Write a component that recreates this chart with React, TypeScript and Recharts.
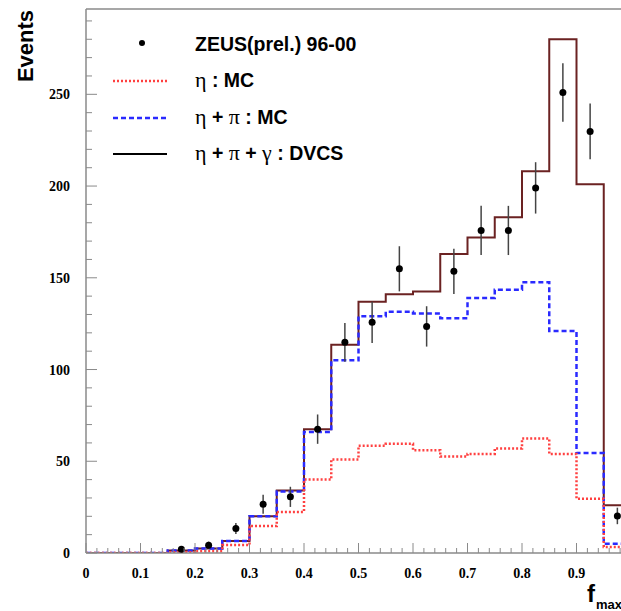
import { ComposedChart, Line, Scatter, ErrorBar, XAxis, YAxis, ReferenceLine } from "recharts"

// histogram bin edges (width 0.05), last edge closes the last bin
const binEdges = [0, 0.05, 0.1, 0.15, 0.2, 0.25, 0.3, 0.35, 0.4, 0.45, 0.5, 0.55, 0.6, 0.65, 0.7, 0.75, 0.8, 0.85, 0.9, 0.95, 1.0]

// bin contents, one value per bin
const etaMC = [0, 0, 0, 0.4, 1, 4.3, 14.7, 22.4, 40, 51, 58.5, 59.5, 56, 52.6, 54, 57, 62.4, 54, 29.6, 3.3]
const etaPiMC = [0, 0, 0, 1.3, 2.5, 6.5, 20, 33.5, 66, 105, 129, 131.5, 130.5, 128, 139, 143.5, 147.6, 121, 54.5, 5]
const dvcsTotal = [0, 0, 0, 1.3, 2.5, 6.5, 20, 34, 67.5, 113.5, 137, 141, 142.5, 163, 172, 183, 208, 280, 201, 26]

// ZEUS (prel.) 96-00 data points
const zeusX = [0.175, 0.225, 0.275, 0.325, 0.375, 0.425, 0.475, 0.525, 0.575, 0.625, 0.675, 0.725, 0.775, 0.825, 0.875, 0.925, 0.975]
const zeusY = [2, 4.2, 13.3, 26.6, 30.6, 67.5, 114.8, 125.7, 154.9, 123.5, 153.5, 175.8, 175.8, 199, 251, 229.8, 20.2]
const zeusErr = [1.4, 2, 3, 5.2, 5.5, 8, 10.6, 11.2, 12.3, 11, 12.3, 13.4, 13.4, 14, 15.9, 15.2, 4.5]

const xTickLabels = ["0", "0.1", "0.2", "0.3", "0.4", "0.5", "0.6", "0.7", "0.8", "0.9"]
const yTickLabels = [0, 50, 100, 150, 200, 250]

const Y_MAX = 296.5
const AXIS_GREY = "#8a8a8a"
const TICK_MARGIN = 16

const histRows = binEdges.map((edge, i) => {
  const j = Math.min(i, dvcsTotal.length - 1)
  return { x: edge, eta: etaMC[j], etaPi: etaPiMC[j], dvcs: dvcsTotal[j] }
})

const zeusRows = zeusX.map((x, i) => ({ x, y: zeusY[i], err: zeusErr[i] }))

// minor ticks every 0.02 in x and every 10 in y
const xTicks = Array.from({ length: 51 }, (_, i) => Math.round(i * 2) / 100)
const yTicks = Array.from({ length: 30 }, (_, i) => i * 10)

function XTick(props: any) {
  const { x, y, payload } = props
  const v = payload.value
  const ay = y - TICK_MARGIN
  const r = Math.round(v * 10)
  const major = Math.abs(v * 10 - r) < 1e-6
  const label = major ? xTickLabels[r] : undefined
  return (
    <g>
      <line x1={x} x2={x} y1={ay} y2={ay - (major ? 10 : 5)} stroke={AXIS_GREY} strokeWidth={1} />
      {label && (
        <text x={x} y={ay + 25} textAnchor="middle" fontFamily="Liberation Serif" fontWeight="bold" fontSize={14} fill="#000">
          {label}
        </text>
      )}
    </g>
  )
}

function YTick(props: any) {
  const { x, y, payload } = props
  const v = payload.value
  const ax = x + TICK_MARGIN
  const major = yTickLabels.includes(v)
  return (
    <g>
      <line x1={ax} x2={ax + (major ? 11 : 6)} y1={y} y2={y} stroke={AXIS_GREY} strokeWidth={1} />
      {major && (
        <text x={x} y={y + 5} textAnchor="end" fontFamily="Liberation Serif" fontWeight="bold" fontSize={14} fill="#000">
          {v}
        </text>
      )}
    </g>
  )
}

const greek = { fontFamily: "Liberation Serif", fontWeight: "normal" as const, fontSize: 22 }

function Overlay() {
  return (
    <svg width={621} height={611} style={{ position: "absolute", left: 0, top: 0, pointerEvents: "none" }}>
      <text
        transform="translate(33,46) rotate(-90)"
        textAnchor="middle"
        fontFamily="Liberation Sans"
        fontWeight="bold"
        fontSize={22}
        fill="#000"
      >
        Events
      </text>

      <g fontFamily="Liberation Sans" fontWeight="bold" fontSize={19.5} fill="#000">
        <circle cx={142} cy={43} r={3} fill="#000" />
        <text x={195} y={51}>ZEUS(prel.) 96-00</text>

        <line x1={113} x2={167} y1={81} y2={81} stroke="#ff4040" strokeWidth={2.5} strokeDasharray="2 2" />
        <text x={195} y={87}>
          <tspan {...greek}>η</tspan> : MC
        </text>

        <line x1={113} x2={167} y1={118} y2={118} stroke="#2a2aff" strokeWidth={2.5} strokeDasharray="5 3" />
        <text x={195} y={123.5}>
          <tspan {...greek}>η</tspan> + <tspan {...greek}>π</tspan> : MC
        </text>

        <line x1={113} x2={167} y1={154} y2={154} stroke="#000" strokeWidth={2} />
        <text x={195} y={160}>
          <tspan {...greek}>η</tspan> + <tspan {...greek}>π</tspan> + <tspan {...greek}>γ</tspan> : DVCS
        </text>
      </g>

      <text x={587} y={602} fontFamily="Liberation Sans" fontWeight="bold" fontSize={24} fill="#000">
        f
        <tspan fontSize={13} dx={1} dy={7}>max</tspan>
      </text>
    </svg>
  )
}

export default function App() {
  return (
    <div style={{ position: "absolute", left: 0, top: 0, width: 621, height: 611, overflow: "hidden", background: "#fff" }}>
      <ComposedChart width={640} height={611} data={histRows} margin={{ top: 9, right: 9, left: 26, bottom: 18 }}>
        <XAxis
          type="number"
          dataKey="x"
          domain={[0, 1]}
          ticks={xTicks}
          interval={0}
          height={40}
          tickSize={0}
          tickMargin={TICK_MARGIN}
          tickLine={false}
          axisLine={{ stroke: AXIS_GREY, strokeWidth: 1.5 }}
          tick={<XTick />}
          allowDataOverflow
        />
        <YAxis
          type="number"
          domain={[0, Y_MAX]}
          ticks={yTicks}
          interval={0}
          width={60}
          tickSize={0}
          tickMargin={TICK_MARGIN}
          tickLine={false}
          axisLine={{ stroke: AXIS_GREY, strokeWidth: 1.5 }}
          tick={<YTick />}
          allowDataOverflow
        />
        <ReferenceLine y={Y_MAX} stroke={AXIS_GREY} strokeWidth={1.5} />
        <Line type="stepAfter" dataKey="dvcs" stroke="#6b2222" strokeWidth={2} dot={false} isAnimationActive={false} />
        <Line type="stepAfter" dataKey="etaPi" stroke="#2a2aff" strokeWidth={2.5} strokeDasharray="5 3" dot={false} isAnimationActive={false} />
        <Line type="stepAfter" dataKey="eta" stroke="#ff4040" strokeWidth={2.5} strokeDasharray="2 2" dot={false} isAnimationActive={false} />
        <Scatter
          data={zeusRows}
          dataKey="y"
          isAnimationActive={false}
          shape={(p: any) => <circle cx={p.cx} cy={p.cy} r={3.5} fill="#000" />}
        >
          <ErrorBar dataKey="err" direction="y" width={0} stroke="#444" strokeWidth={1.5} />
        </Scatter>
      </ComposedChart>
      <Overlay />
    </div>
  )
}
